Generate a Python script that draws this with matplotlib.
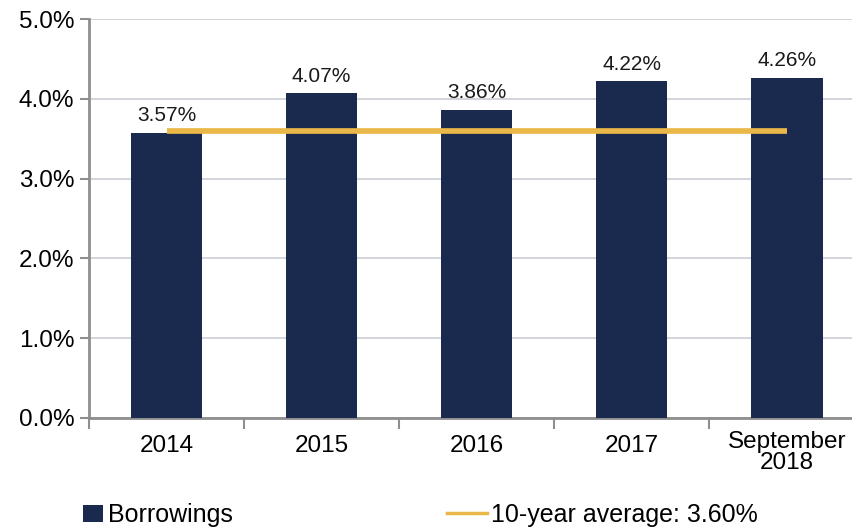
import numpy as np
import matplotlib.pyplot as plt
from matplotlib.patches import Patch
from matplotlib.lines import Line2D

plt.rcParams['font.family'] = ['Liberation Sans', 'DejaVu Sans']

# data
categories = ['2014', '2015', '2016', '2017', 'September\n2018']
borrowings = [3.57, 4.07, 3.86, 4.22, 4.26]
avg_10y = 3.60

navy = '#1a2a4e'
gold = '#e9b848'
axis_grey = '#8e8e8e'

fig = plt.figure(figsize=(8.52, 5.27), dpi=100)
W, H = 852, 527
ax = fig.add_axes([89 / W, (H - 418) / H, 763 / W, 399 / H])

x = np.arange(len(categories))
ax.bar(x, borrowings, width=0.46, color=navy, zorder=3)

# 10 year average, drawn from first to last bar centre
ax.plot([x[0], x[-1]], [avg_10y, avg_10y], color=gold, lw=4.1, zorder=4,
        solid_capstyle='butt')

# value labels above bars
for xi, v in zip(x, borrowings):
    ax.annotate(f'{v:.2f}%', (xi, v), xytext=(0, 5.5), textcoords='offset points',
                ha='center', va='bottom', fontsize=15, color='#1a1a1a')

ax.set_xlim(-0.5, 4.42)
ax.set_ylim(0, 5)
yt = np.arange(0, 5.01, 1)
ax.set_yticks(yt)
ax.set_yticklabels([f'{t:.1f}%' for t in yt], fontsize=17.5)
ax.yaxis.grid(True, color='#c9ced6', lw=1.2, zorder=0)

ax.set_xticks(x)
ax.set_xticklabels(categories, fontsize=17.5, linespacing=0.95)
ax.set_xticks(np.arange(-0.5, 4.5, 1), minor=True)
ax.tick_params(axis='x', which='major', length=0, pad=12)
ax.tick_params(axis='x', which='minor', length=8, width=1.5, color=axis_grey)
ax.tick_params(axis='y', length=6.5, width=1.5, color=axis_grey, pad=4)
# the two-line label sits a little higher
ax.get_xticklabels()[-1].set_y(0.01)

for s in ['top', 'right']:
    ax.spines[s].set_visible(False)
for s in ['left', 'bottom']:
    ax.spines[s].set_color(axis_grey)
    ax.spines[s].set_linewidth(2)

leg1 = fig.legend([Patch(facecolor=navy, edgecolor='none')], ['Borrowings'],
                  loc='center left', bbox_to_anchor=(83 / W, 12 / H),
                  frameon=False, fontsize=18, handlelength=0.8, handleheight=0.7,
                  handletextpad=0.2, borderpad=0, borderaxespad=0)
leg2 = fig.legend([Line2D([0], [0], color=gold, lw=2.5)], ['10-year average: 3.60%'],
                  loc='center left', bbox_to_anchor=(447 / W, 12 / H),
                  frameon=False, fontsize=18, handlelength=1.6,
                  handletextpad=0.15, borderpad=0, borderaxespad=0)

fig.savefig('out.png', dpi=100)
